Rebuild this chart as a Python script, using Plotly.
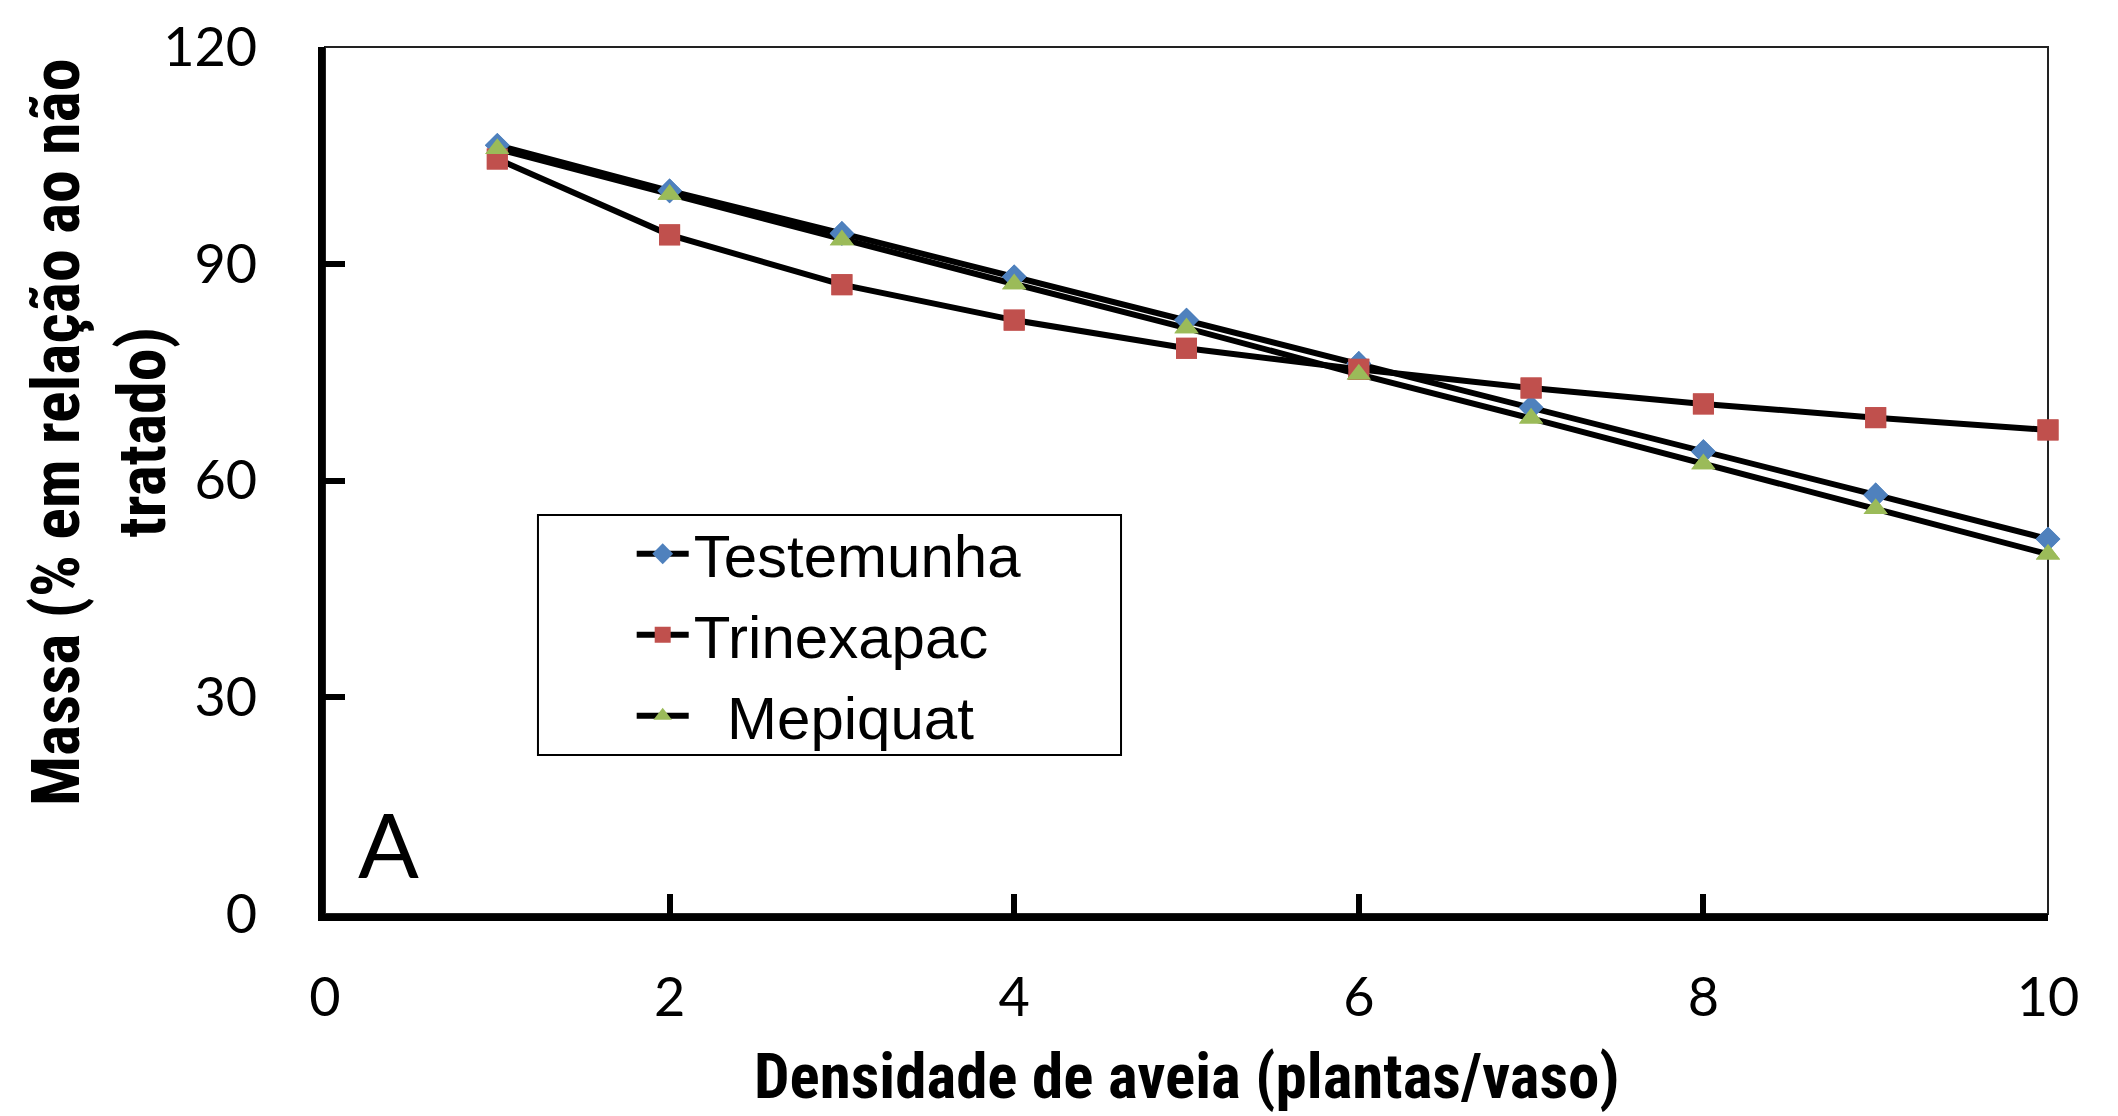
import plotly.graph_objects as go

densidade = [1, 2, 3, 4, 5, 6, 7, 8, 9, 10]
testemunha = [106.4, 100.1, 94.2, 88.2, 82.2, 76.2, 70.1, 64.0, 58.0, 51.9]
trinexapac = [104.5, 94.0, 87.1, 82.2, 78.3, 75.4, 72.8, 70.6, 68.7, 67.0]
mepiquat = [105.9, 99.6, 93.3, 87.2, 81.1, 74.7, 68.6, 62.3, 56.1, 49.8]

series_names = ["Testemunha", "Trinexapac", "\u00a0\u00a0Mepiquat"]
x_ticks = [0, 2, 4, 6, 8, 10]
y_ticks = [0, 30, 60, 90, 120]

series = [testemunha, trinexapac, mepiquat]
colors = ["#4F81BD", "#C0504D", "#9BBB59"]
symbols = ["diamond", "square", "triangle-up"]
sizes = [19, 21, 21]

fig = go.Figure()
for name, ys, c, s, sz in zip(series_names, series, colors, symbols, sizes):
    fig.add_trace(go.Scatter(
        x=densidade, y=ys, name=name, mode="lines+markers",
        line=dict(color="black", width=6),
        marker=dict(color=c, symbol=s, size=sz, line=dict(width=0)),
        cliponaxis=False,
    ))
for name, ys, c, s, sz in zip(series_names, series, colors, symbols, sizes):
    fig.add_trace(go.Scatter(
        x=densidade, y=ys, name=name, mode="markers", showlegend=False,
        marker=dict(color=c, symbol=s, size=sz, line=dict(width=0)),
        cliponaxis=False,
    ))

tick_font = dict(family="Lato, Liberation Sans, sans-serif", size=54, color="black")
title_font = "Liberation Sans Narrow, Arial Narrow, Roboto Condensed, sans-serif"

fig.update_layout(
    width=2118, height=1116,
    paper_bgcolor="white", plot_bgcolor="white",
    margin=dict(l=325, r=70, t=47, b=202),
    showlegend=True,
    legend=dict(
        x=0.178, y=0.468, xanchor="left", yanchor="top",
        borderwidth=0, bgcolor="rgba(0,0,0,0)",
        font=dict(family="Liberation Sans, Arial, sans-serif", size=60, color="black"),
        itemwidth=52, tracegroupgap=0,
    ),
    xaxis=dict(
        range=[0, 10], tickvals=x_ticks, ticktext=[str(v) for v in x_ticks],
        showgrid=False, zeroline=False,
        showline=True, linecolor="black", linewidth=7,
        ticks="inside", ticklen=20, tickwidth=6, tickcolor="black",
        tickfont=tick_font, ticklabelstandoff=30,
    ),
    yaxis=dict(
        range=[0, 120], tickvals=y_ticks, ticktext=[str(v) for v in y_ticks],
        showgrid=False, zeroline=False,
        showline=True, linecolor="black", linewidth=7,
        ticks="inside", ticklen=20, tickwidth=6, tickcolor="black",
        tickfont=tick_font, ticklabelstandoff=50,
    ),
    shapes=[
        dict(type="rect", xref="paper", yref="paper", x0=0, x1=1, y0=0, y1=1,
             line=dict(color="#222222", width=2), layer="below"),
        dict(type="rect", xref="paper", yref="paper",
             x0=0.1236, x1=0.4620, y0=0.1834, y1=0.4602,
             line=dict(color="black", width=2), fillcolor="white", layer="below"),
    ],
    annotations=[
        dict(text="<b>Densidade de aveia (plantas/vaso)</b>", xref="paper", yref="paper",
             x=0.5, y=-0.187, xanchor="center", yanchor="middle", showarrow=False,
             font=dict(family=title_font, size=63, color="black")),
        dict(text="<b>Massa (% em relação ao não<br>tratado)</b>", xref="paper", yref="paper",
             x=-0.1306, y=0.556, xanchor="center", yanchor="middle", showarrow=False,
             textangle=-90,
             font=dict(family=title_font, size=66, color="black")),
        dict(text="A", xref="paper", yref="paper", x=0.0366, y=0.082,
             xanchor="center", yanchor="middle", showarrow=False,
             font=dict(family="Lato, Liberation Sans, sans-serif", size=90, color="black")),
    ],
)

fig.write_html("out.html", config={"displayModeBar": False},
               post_script="document.body.style.margin='0';")
